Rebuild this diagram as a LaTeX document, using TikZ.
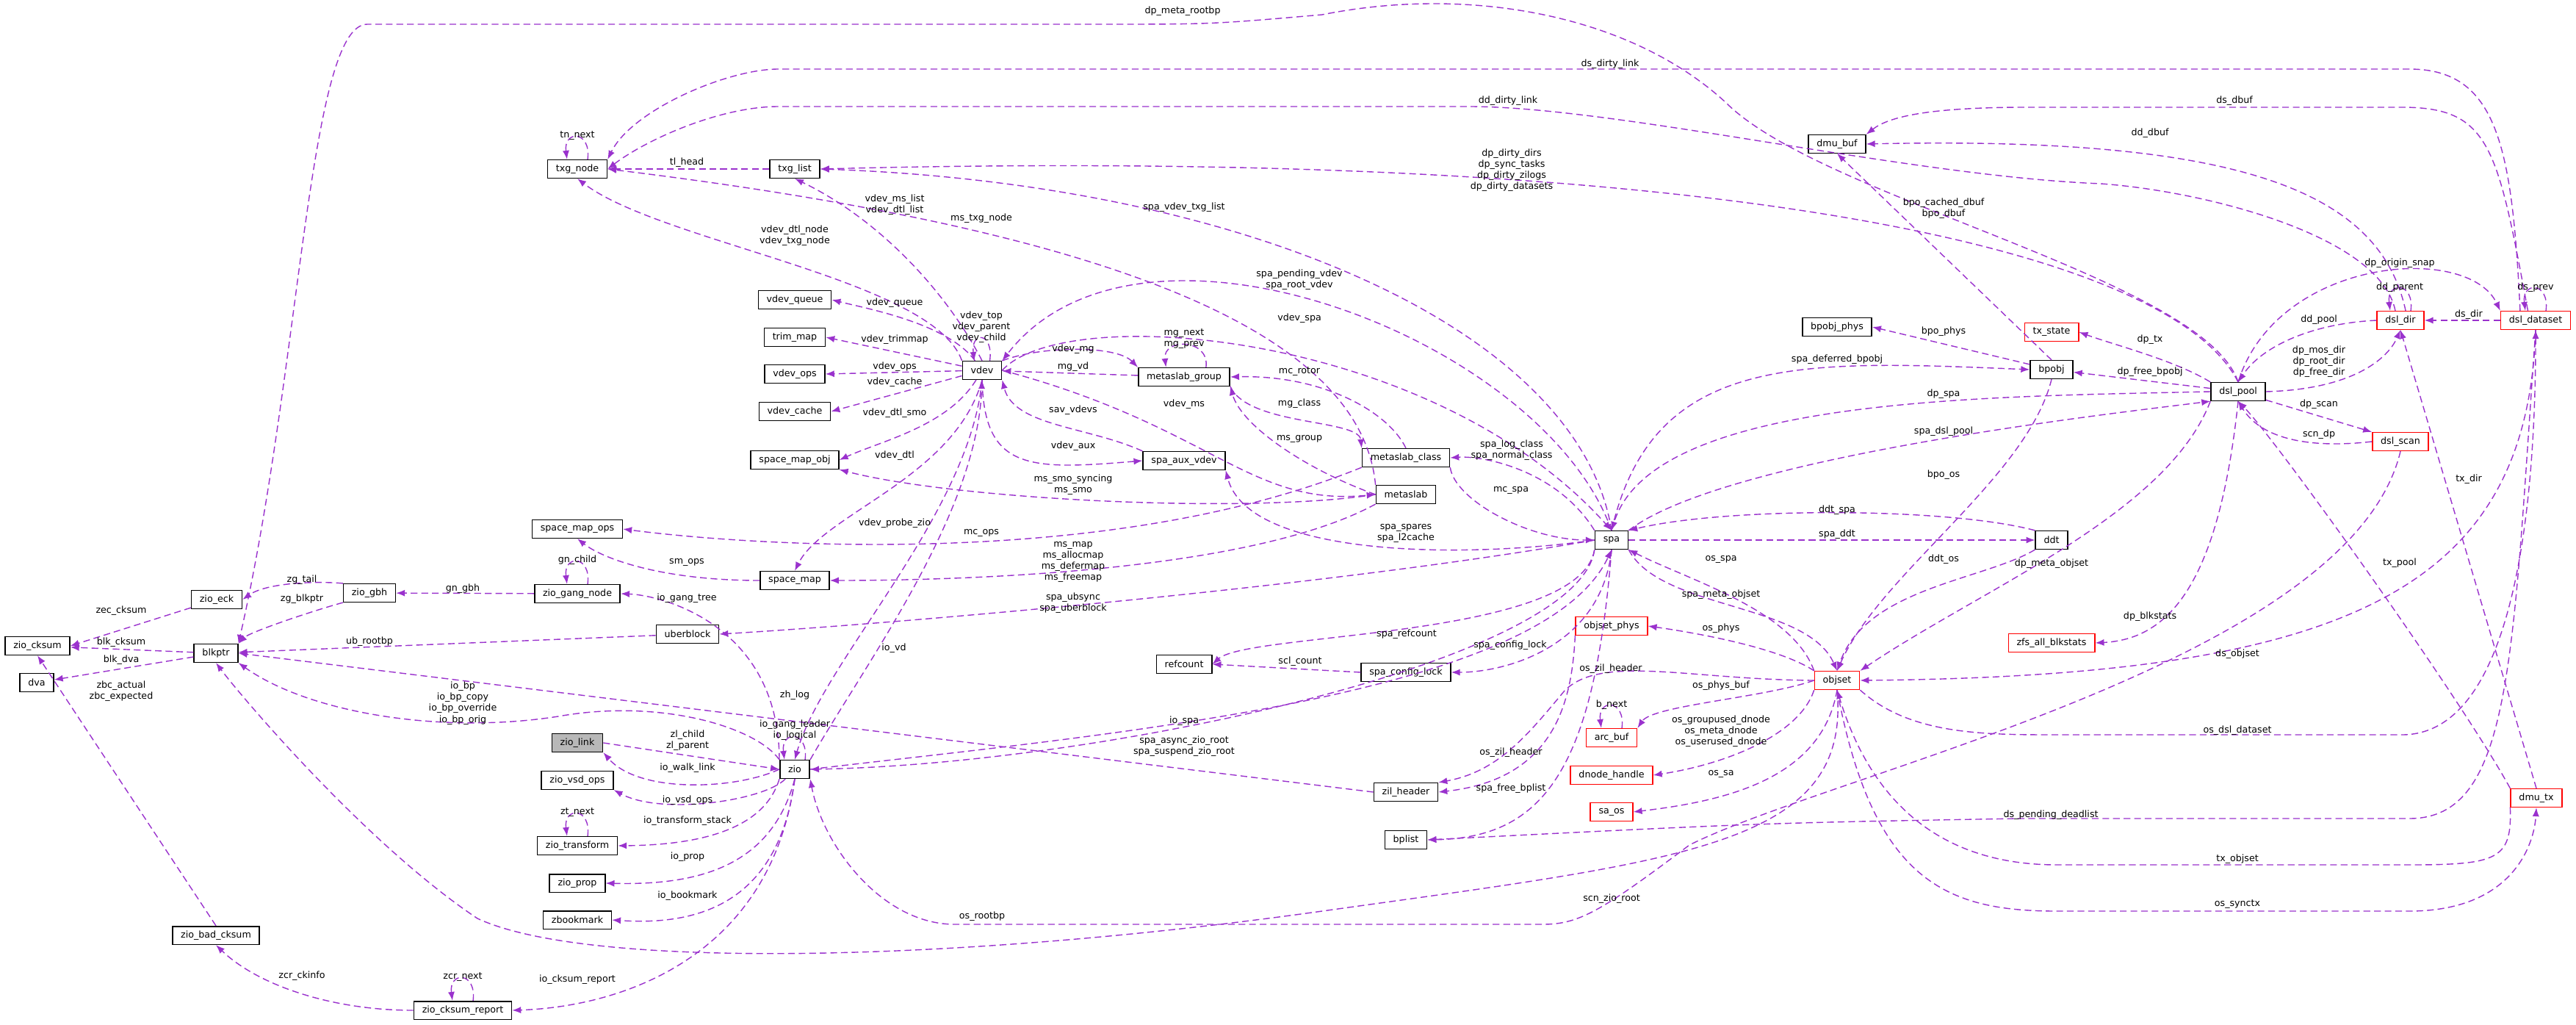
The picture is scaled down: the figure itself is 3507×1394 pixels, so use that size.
\documentclass[tikz,border=0pt]{standalone}
\usepackage{fontspec}
\setmainfont{DejaVu Sans}
\usetikzlibrary{arrows.meta}
\definecolor{ec}{HTML}{9A32CD}
\begin{document}
\begin{tikzpicture}[x=0.01cm,y=-0.01cm,
 n/.style={draw=black,fill=white,line width=0.45pt,font=\fontsize{3.6}{4.3}\selectfont,inner xsep=3.2pt,inner ysep=0pt,minimum height=7pt},
 r/.style={n,draw=red},
 g/.style={n,fill=black!28},
 e/.style={draw=ec,line width=0.4pt,dash pattern=on 2.6pt off 1.5pt,-{Latex[length=3.4pt,width=2.6pt]}},
 l/.style={font=\fontsize{3.6}{4.3}\selectfont,align=center,inner sep=0pt}]
\useasboundingbox (0,0) rectangle (3507,1394);
% nodes
\node[n] (txgnode) at (786,230) {txg\_node};
\node[n] (txglist) at (1082,230) {txg\_list};
\node[n] (dmubuf) at (2501,196) {dmu\_buf};
\node[n] (vqueue) at (1082,408) {vdev\_queue};
\node[n] (trimmap) at (1082,459) {trim\_map};
\node[n] (vops) at (1082,509) {vdev\_ops};
\node[n] (vcache) at (1082,560) {vdev\_cache};
\node[n] (smobj) at (1082,626) {space\_map\_obj};
\node[n] (vdev) at (1337,504) {vdev};
\node[n] (mg) at (1612,513) {metaslab\_group};
\node[n] (sav) at (1612,627) {spa\_aux\_vdev};
\node[n] (mc) at (1914,623) {metaslab\_class};
\node[n] (ms) at (1914,673) {metaslab};
\node[n] (smops) at (786,720) {space\_map\_ops};
\node[n] (smap) at (1082,790) {space\_map};
\node[n] (gang) at (786,808) {zio\_gang\_node};
\node[n] (gbh) at (503,807) {zio\_gbh};
\node[n] (eck) at (295,816) {zio\_eck};
\node[n] (cksum) at (51,879) {zio\_cksum};
\node[n] (blkptr) at (294,889) {blkptr};
\node[n] (dva) at (50,929) {dva};
\node[n] (ub) at (936,863) {uberblock};
\node[g] (zlink) at (786,1011) {zio\_link};
\node[n] (zio) at (1082,1047) {zio};
\node[n] (vsdops) at (786,1062) {zio\_vsd\_ops};
\node[n] (ztrans) at (786,1151) {zio\_transform};
\node[n] (zprop) at (786,1202) {zio\_prop};
\node[n] (zbook) at (786,1252) {zbookmark};
\node[n] (badck) at (294,1273) {zio\_bad\_cksum};
\node[n] (ckrep) at (630,1375) {zio\_cksum\_report};
\node[n] (bpobjphys) at (2501,445) {bpobj\_phys};
\node[r] (txstate) at (2793,452) {tx\_state};
\node[n] (bpobj) at (2793,503) {bpobj};
\node[n] (dslpool) at (3047,533) {dsl\_pool};
\node[r] (dsldir) at (3268,436) {dsl\_dir};
\node[r] (dslds) at (3452,436) {dsl\_dataset};
\node[r] (dslscan) at (3268,601) {dsl\_scan};
\node[n] (spa) at (2194,735) {spa};
\node[n] (ddt) at (2793,735) {ddt};
\node[r] (osphys) at (2194,852) {objset\_phys};
\node[r] (blkstats) at (2793,875) {zfs\_all\_blkstats};
\node[n] (refcount) at (1612,904) {refcount};
\node[n] (scl) at (1914,915) {spa\_config\_lock};
\node[r] (objset) at (2501,926) {objset};
\node[r] (arcbuf) at (2194,1004) {arc\_buf};
\node[r] (dnode) at (2194,1055) {dnode\_handle};
\node[r] (saos) at (2194,1105) {sa\_os};
\node[n] (zil) at (1914,1078) {zil\_header};
\node[n] (bplist) at (1914,1143) {bplist};
\node[r] (dmutx) at (3453,1086) {dmu\_tx};
% self loops
\draw[e] ([xshift=4pt]txgnode.north) .. controls +(5,-40) and +(-5,-40) .. ([xshift=-4pt]txgnode.north);
\draw[e] ([xshift=8.5pt]mg.north) .. controls +(5,-40) and +(-5,-40) .. ([xshift=-7pt]mg.north);
\draw[e] ([xshift=3pt]vdev.north) .. controls +(5,-40) and +(-5,-40) .. ([xshift=-3pt]vdev.north);
\draw[e] ([xshift=4pt]gang.north) .. controls +(5,-40) and +(-5,-40) .. ([xshift=-4pt]gang.north);
\draw[e] ([xshift=4pt]ztrans.north) .. controls +(5,-40) and +(-5,-40) .. ([xshift=-4pt]ztrans.north);
\draw[e] ([xshift=4pt]ckrep.north) .. controls +(5,-40) and +(-5,-40) .. ([xshift=-4pt]ckrep.north);
\draw[e] ([xshift=4pt]zio.north) .. controls +(5,-40) and +(-5,-40) .. ([xshift=-4pt]zio.north);
\draw[e] ([xshift=4pt]arcbuf.north) .. controls +(5,-40) and +(-5,-40) .. ([xshift=-4pt]arcbuf.north);
\draw[e] ([xshift=4pt]dsldir.north) .. controls +(5,-40) and +(-5,-40) .. ([xshift=-4pt]dsldir.north);
\draw[e] ([xshift=4pt]dslds.north) .. controls +(5,-40) and +(-5,-40) .. ([xshift=-4pt]dslds.north);
% top long edges
\draw[e] ([xshift=-6pt]dslds.north) .. controls (3420,200) and (3400,94) .. (3280,94) -- (1060,94) .. controls (990,94) and (860,150) .. (txgnode.north east);
\draw[e] ([xshift=-2pt]dsldir.north) .. controls (3240,320) and (3000,260) .. (2860,250) .. controls (2600,240) and (2200,145) .. (2000,145) -- (1060,145) .. controls (980,145) and (880,190) .. (txgnode.east);
\draw[e] ([xshift=-3pt]dslds.north) .. controls (3400,200) and (3390,146) .. (3270,146) -- (2760,146) .. controls (2620,146) and (2570,160) .. (dmubuf.north east);
\draw[e] ([xshift=2pt]dsldir.north) .. controls (3240,260) and (3050,185) .. (dmubuf.east);
\draw[e] (dslpool.north) .. controls (3000,380) and (2480,270) .. (2350,140) .. controls (2220,20) and (2000,-20) .. (1800,20) .. controls (1650,33) .. (1500,33) -- (500,33) .. controls (420,33) and (410,500) .. (blkptr.north east);
\draw[e] (txglist) -- (txgnode);
\draw[e] (vdev.north west) .. controls (1270,380) and (900,330) .. (txgnode.south);
\draw[e] (ms.north west) .. controls (1850,420) and (1400,300) .. (txgnode.east);
\draw[e] (vdev.north) .. controls (1290,400) and (1200,300) .. (txglist.south);
\draw[e] (spa.north) .. controls (2150,450) and (1700,250) .. (txglist.east);
\draw[e] (dslpool.north) .. controls (2950,330) and (2300,200) .. (txglist.east);
\draw[e] (bpobj.north) -- (dmubuf.south);
% vdev area
\draw[e] (vdev) .. controls (1290,440) and (1180,420) .. (vqueue.east);
\draw[e] (vdev) -- (trimmap.east);
\draw[e] (vdev) -- (vops.east);
\draw[e] (vdev) -- (vcache.east);
\draw[e] (vdev) .. controls (1290,580) and (1200,600) .. (smobj.east);
\draw[e] (vdev.north east) .. controls (1420,470) and (1520,470) .. (mg.north west);
\draw[e] (mg) -- (vdev);
\draw[e] (spa.north) .. controls (2100,460) and (1550,250) .. (vdev.north east);
\draw[e] (vdev.east) .. controls (1450,410) and (1950,450) .. (spa.north);
\draw[e] (sav.north west) .. controls (1480,580) and (1380,580) .. (vdev.south east);
\draw[e] (vdev.south) .. controls (1340,640) and (1400,640) .. (sav.west);
\draw[e] (vdev.east) .. controls (1650,580) and (1700,690) .. (ms.west);
\draw[e] (mc.north) .. controls (1890,560) and (1800,510) .. (mg.east);
\draw[e] (mg.south east) .. controls (1700,580) and (1850,570) .. (mc.north west);
\draw[e] (ms.west) .. controls (1780,640) and (1690,580) .. (mg.south east);
\draw[e] (ms.west) .. controls (1700,700) and (1300,680) .. (smobj.south east);
\draw[e] (vdev.south) .. controls (1300,650) and (1120,700) .. (smap.north);
\draw[e] (vdev.south) .. controls (1320,700) and (1120,900) .. (zio.north);
\draw[e] (zio.north east) .. controls (1180,900) and (1330,700) .. (vdev.south);
\draw[e] (mc.south west) .. controls (1500,780) and (1000,740) .. (smops.east);
\draw[e] (smap.west) .. controls (900,790) and (820,760) .. (smops.south);
\draw[e] (ms.south west) .. controls (1700,780) and (1300,790) .. (smap.east);
\draw[e] (spa.north west) .. controls (2120,640) and (2020,620) .. (mc.east);
\draw[e] (mc.south east) .. controls (1980,680) and (2080,735) .. (spa.west);
\draw[e] (spa.west) .. controls (2000,760) and (1700,760) .. (sav.south east);
% zio / blkptr area
\draw[e] (zio.north west) .. controls (1060,850) and (900,810) .. (gang.east);
\draw[e] (gang) -- (gbh);
\draw[e] (gbh.north west) .. controls (420,790) and (360,795) .. (eck.east);
\draw[e] (gbh.south west) .. controls (430,830) and (340,860) .. (blkptr.north east);
\draw[e] (eck) -- (cksum.east);
\draw[e] (blkptr) -- (cksum);
\draw[e] (blkptr) -- (dva);
\draw[e] (badck.north) -- (cksum.south);
\draw[e] (ub) -- (blkptr);
\draw[e] (spa.west) .. controls (1800,800) and (1200,850) .. (ub.east);
\draw[e] (zio.north west) .. controls (1030,990) and (900,950) .. (760,975) .. controls (600,1000) and (420,970) .. (blkptr.south east);
\draw[e] (zil.west) -- (blkptr.east);
\draw[e] (objset.south) .. controls (2520,1150) and (2300,1170) .. (1800,1240) .. controls (1300,1310) and (800,1320) .. (650,1250) .. controls (500,1150) and (330,950) .. (blkptr.south);
\draw[e] (dslscan.south) .. controls (3200,900) and (2500,1050) .. (2300,1150) .. controls (2180,1240) and (2150,1258) .. (2100,1258) -- (1300,1258) .. controls (1200,1258) and (1120,1150) .. (zio.south east);
\draw[e] (zlink.east) -- (zio.west);
\draw[e] (zio.west) .. controls (1000,1075) and (870,1080) .. (zlink.south east);
\draw[e] (zio) .. controls (1040,1090) and (900,1110) .. (vsdops.south east);
\draw[e] (zio.south west) .. controls (1040,1130) and (950,1150) .. (ztrans.east);
\draw[e] (zio.south) .. controls (1050,1180) and (950,1205) .. (zprop.east);
\draw[e] (zio.south) .. controls (1060,1230) and (950,1260) .. (zbook.east);
\draw[e] (zio.south) .. controls (1050,1300) and (850,1370) .. (ckrep.east);
\draw[e] (ckrep.west) .. controls (450,1375) and (350,1340) .. (badck.south);
\draw[e] (spa.south west) .. controls (2150,900) and (1500,1040) .. (zio.east);
\draw[e] (zio.east) .. controls (1500,1000) and (2100,950) .. (spa.south);
\draw[e] (spa.south west) .. controls (2150,870) and (1700,860) .. (refcount.east);
\draw[e] (scl.west) -- (refcount.east);
\draw[e] (spa.south) .. controls (2180,880) and (2050,915) .. (scl.east);
\draw[e] (objset.west) .. controls (2300,925) and (2180,890) .. (2130,940) .. controls (2080,1000) and (2040,1050) .. (zil.north east);
\draw[e] (osphys.south west) .. controls (2140,950) and (2120,1060) .. (zil.east);
\draw[e] (spa.south) .. controls (2170,1050) and (2100,1140) .. (bplist.east);
\draw[e] (dslds.south) .. controls (3420,900) and (3420,1114) .. (3280,1114) -- (2750,1114) .. controls (2400,1120) .. (bplist.east);
% objset area
\draw[e] (objset.north west) .. controls (2420,880) and (2300,860) .. (osphys.east);
\draw[e] (objset.west) .. controls (2400,950) and (2250,960) .. (arcbuf.north east);
\draw[e] (objset.south west) .. controls (2450,1000) and (2350,1040) .. (dnode.east);
\draw[e] (objset.south) .. controls (2480,1060) and (2350,1090) .. (saos.east);
\draw[e] (objset.north west) .. controls (2440,830) and (2300,790) .. (spa.south east);
\draw[e] (spa.south east) .. controls (2260,830) and (2460,820) .. (objset.north);
\draw[e] (ddt.south west) .. controls (2700,790) and (2540,800) .. (objset.north);
\draw[e] (dslpool.south west) .. controls (2950,700) and (2700,800) .. (objset.north east);
\draw[e] (bpobj.south) .. controls (2760,650) and (2560,780) .. (objset.north);
\draw[e] (dslds.south) .. controls (3440,800) and (3200,920) .. (objset.east);
\draw[e] (objset.south east) .. controls (2600,1000) and (2700,1000) .. (2800,1000) -- (3270,1000) .. controls (3420,1000) and (3452,700) .. (dslds.south);
\draw[e] (dmutx.south west) .. controls (3420,1170) and (3400,1177) .. (3280,1177) -- (2800,1177) .. controls (2650,1177) and (2550,1100) .. (objset.south);
\draw[e] (objset.south) .. controls (2550,1200) and (2650,1240) .. (2800,1240) -- (3280,1240) .. controls (3420,1240) and (3450,1150) .. (dmutx.south);
% spa / dsl area
\draw[e] (spa) -- (ddt);
\draw[e] (ddt.north west) .. controls (2650,690) and (2350,690) .. (spa.north east);
\draw[e] (spa.north) .. controls (2250,480) and (2450,490) .. (bpobj.west);
\draw[e] (bpobj) -- (bpobjphys.east);
\draw[e] (dslpool.north west) .. controls (2960,490) and (2880,470) .. (txstate.east);
\draw[e] (dslpool) -- (bpobj);
\draw[e] (dslpool.west) .. controls (2700,540) and (2250,540) .. (spa.north);
\draw[e] (spa.north east) .. controls (2350,620) and (2900,560) .. (dslpool.south west);
\draw[e] (dsldir.west) .. controls (3150,440) and (3080,470) .. (dslpool.north);
\draw[e] (dslpool.east) .. controls (3200,530) and (3250,490) .. (dsldir.south);
\draw[e] (dslpool.north) .. controls (3100,350) and (3360,330) .. (dslds.north west);
\draw[e] (dslds) -- (dsldir);
\draw[e] (dslpool) -- (dslscan.north west);
\draw[e] (dslscan.west) .. controls (3150,610) and (3080,600) .. (dslpool.south);
\draw[e] (dmutx.north) -- (dsldir.south);
\draw[e] (dmutx.north west) .. controls (3350,950) and (3100,600) .. (dslpool.south);
\draw[e] (dslpool.south) .. controls (3020,800) and (2950,870) .. (blkstats.east);
% labels
\node[l] (t1) at (1610,15) {dp\_meta\_rootbp};
\node[l] (t2) at (2192,87) {ds\_dirty\_link};
\node[l] (t3) at (2053,137) {dd\_dirty\_link};
\node[l] (t4) at (3042,137) {ds\_dbuf};
\node[l] (t5) at (2927,181) {dd\_dbuf};
\node[l] (t6) at (786,185) {tn\_next};
\node[l] (t7) at (935,221) {tl\_head};
\node[l] (t8) at (1218,279) {vdev\_ms\_list\\vdev\_dtl\_list};
\node[l] (t9) at (1336,297) {ms\_txg\_node};
\node[l] (t10) at (1612,282) {spa\_vdev\_txg\_list};
\node[l] (t11) at (1082,321) {vdev\_dtl\_node\\vdev\_txg\_node};
\node[l] (t12) at (1769,381) {spa\_pending\_vdev\\spa\_root\_vdev};
\node[l] (t13) at (1218,412) {vdev\_queue};
\node[l] (t14) at (1336,445) {vdev\_top\\vdev\_parent\\vdev\_child};
\node[l] (t15) at (1769,433) {vdev\_spa};
\node[l] (t16) at (1218,462) {vdev\_trimmap};
\node[l] (t17) at (1612,461) {mg\_next\\mg\_prev};
\node[l] (t18) at (1461,475) {vdev\_mg};
\node[l] (t19) at (1218,499) {vdev\_ops};
\node[l] (t20) at (1461,499) {mg\_vd};
\node[l] (t21) at (1769,506) {mc\_rotor};
\node[l] (t22) at (1218,520) {vdev\_cache};
\node[l] (t23) at (1769,549) {mg\_class};
\node[l] (t24) at (1461,558) {sav\_vdevs};
\node[l] (t25) at (1612,550) {vdev\_ms};
\node[l] (t26) at (1218,562) {vdev\_dtl\_smo};
\node[l] (t27) at (1769,597) {ms\_group};
\node[l] (t28) at (1461,607) {vdev\_aux};
\node[l] (t29) at (1218,620) {vdev\_dtl};
\node[l] (t30) at (2058,613) {spa\_log\_class\\spa\_normal\_class};
\node[l] (t31) at (1461,660) {ms\_smo\_syncing\\ms\_smo};
\node[l] (t32) at (2057,667) {mc\_spa};
\node[l] (t33) at (1218,712) {vdev\_probe\_zio};
\node[l] (t34) at (1336,725) {mc\_ops};
\node[l] (t35) at (1914,726) {spa\_spares\\spa\_l2cache};
\node[l] (t36) at (935,765) {sm\_ops};
\node[l] (t37) at (1461,765) {ms\_map\\ms\_allocmap\\ms\_defermap\\ms\_freemap};
\node[l] (t38) at (786,762) {gn\_child};
\node[l] (t39) at (935,814) {io\_gang\_tree};
\node[l] (t40) at (1461,821) {spa\_ubsync\\spa\_uberblock};
\node[l] (t41) at (411,789) {zg\_tail};
\node[l] (t42) at (411,815) {zg\_blkptr};
\node[l] (t43) at (630,801) {gn\_gbh};
\node[l] (t44) at (165,831) {zec\_cksum};
\node[l] (t45) at (165,874) {blk\_cksum};
\node[l] (t46) at (503,873) {ub\_rootbp};
\node[l] (t47) at (1217,882) {io\_vd};
\node[l] (t48) at (165,898) {blk\_dva};
\node[l] (t49) at (165,941) {zbc\_actual\\zbc\_expected};
\node[l] (t50) at (630,957) {io\_bp\\io\_bp\_copy\\io\_bp\_override\\io\_bp\_orig};
\node[l] (t51) at (1082,946) {zh\_log};
\node[l] (t52) at (1082,994) {io\_gang\_leader\\io\_logical};
\node[l] (t53) at (936,1008) {zl\_child\\zl\_parent};
\node[l] (t54) at (936,1045) {io\_walk\_link};
\node[l] (t55) at (936,1089) {io\_vsd\_ops};
\node[l] (t56) at (786,1106) {zt\_next};
\node[l] (t57) at (936,1117) {io\_transform\_stack};
\node[l] (t58) at (936,1166) {io\_prop};
\node[l] (t59) at (936,1219) {io\_bookmark};
\node[l] (t60) at (1337,1247) {os\_rootbp};
\node[l] (t61) at (411,1328) {zcr\_ckinfo};
\node[l] (t62) at (630,1330) {zcr\_next};
\node[l] (t63) at (786,1333) {io\_cksum\_report};
\node[l] (t64) at (2058,232) {dp\_dirty\_dirs\\dp\_sync\_tasks\\dp\_dirty\_zilogs\\dp\_dirty\_datasets};
\node[l] (t65) at (2646,284) {bpo\_cached\_dbuf\\bpo\_dbuf};
\node[l] (t66) at (3267,358) {dp\_origin\_snap};
\node[l] (t67) at (3267,391) {dd\_parent};
\node[l] (t68) at (3452,391) {ds\_prev};
\node[l] (t69) at (3361,428) {ds\_dir};
\node[l] (t70) at (3157,435) {dd\_pool};
\node[l] (t71) at (2646,451) {bpo\_phys};
\node[l] (t72) at (2927,462) {dp\_tx};
\node[l] (t73) at (3157,492) {dp\_mos\_dir\\dp\_root\_dir\\dp\_free\_dir};
\node[l] (t74) at (2501,489) {spa\_deferred\_bpobj};
\node[l] (t75) at (2927,506) {dp\_free\_bpobj};
\node[l] (t76) at (2646,536) {dp\_spa};
\node[l] (t77) at (3157,550) {dp\_scan};
\node[l] (t78) at (2646,587) {spa\_dsl\_pool};
\node[l] (t79) at (3157,591) {scn\_dp};
\node[l] (t80) at (2646,646) {bpo\_os};
\node[l] (t81) at (3361,652) {tx\_dir};
\node[l] (t82) at (2501,694) {ddt\_spa};
\node[l] (t83) at (2501,727) {spa\_ddt};
\node[l] (t84) at (2343,761) {os\_spa};
\node[l] (t85) at (2646,761) {ddt\_os};
\node[l] (t86) at (3267,766) {tx\_pool};
\node[l] (t87) at (2793,767) {dp\_meta\_objset};
\node[l] (t88) at (2343,809) {spa\_meta\_objset};
\node[l] (t89) at (2927,839) {dp\_blkstats};
\node[l] (t90) at (2343,855) {os\_phys};
\node[l] (t91) at (2056,878) {spa\_config\_lock};
\node[l] (t92) at (3046,890) {ds\_objset};
\node[l] (t93) at (1915,863) {spa\_refcount};
\node[l] (t94) at (1770,900) {scl\_count};
\node[l] (t95) at (2193,910) {os\_zil\_header};
\node[l] (t96) at (2343,933) {os\_phys\_buf};
\node[l] (t97) at (2194,959) {b\_next};
\node[l] (t98) at (1612,981) {io\_spa};
\node[l] (t99) at (2343,995) {os\_groupused\_dnode\\os\_meta\_dnode\\os\_userused\_dnode};
\node[l] (t100) at (3046,994) {os\_dsl\_dataset};
\node[l] (t101) at (1612,1016) {spa\_async\_zio\_root\\spa\_suspend\_zio\_root};
\node[l] (t102) at (2057,1024) {os\_zil\_header};
\node[l] (t103) at (2343,1053) {os\_sa};
\node[l] (t104) at (2057,1073) {spa\_free\_bplist};
\node[l] (t105) at (2792,1109) {ds\_pending\_deadlist};
\node[l] (t106) at (3046,1169) {tx\_objset};
\node[l] (t107) at (2194,1223) {scn\_zio\_root};
\node[l] (t108) at (3046,1231) {os\_synctx};
\end{tikzpicture}
\end{document}
